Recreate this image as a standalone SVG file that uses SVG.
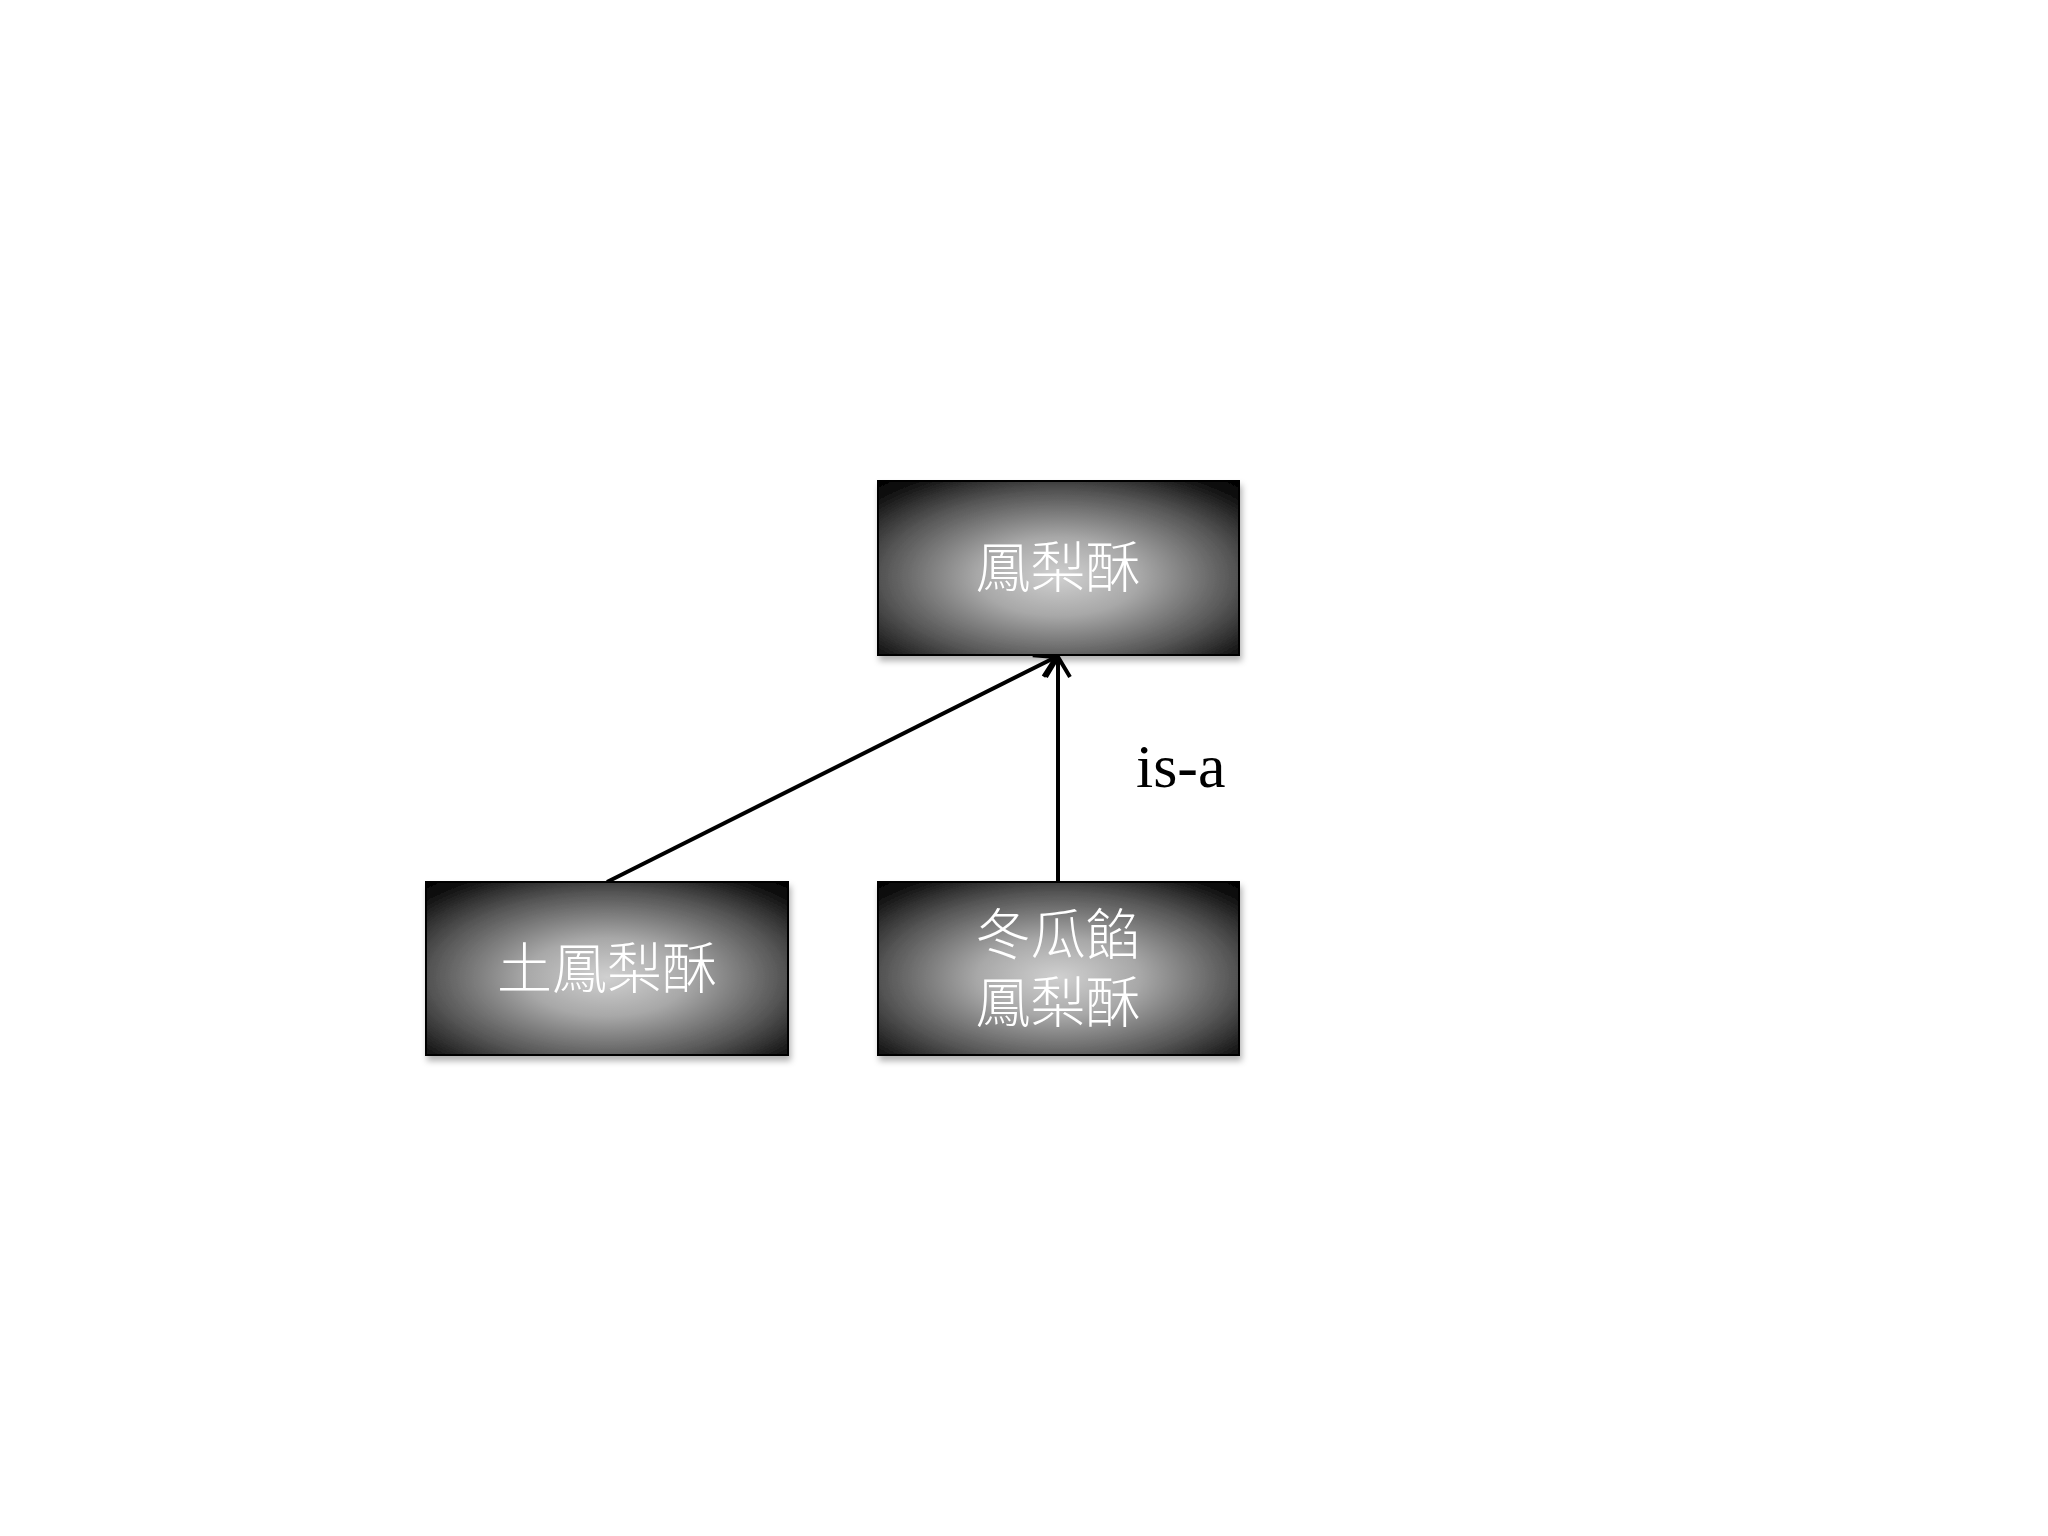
<svg xmlns="http://www.w3.org/2000/svg" width="2048" height="1536" viewBox="0 0 2048 1536">
<style>
.box{fill:url(#rg);stroke:#000;stroke-width:2;filter:url(#sh)}
.cjk{font-family:"Noto Sans CJK TC","Noto Sans CJK SC",sans-serif;font-size:55px;fill:#fff;text-anchor:middle;font-weight:300}
.lbl{font-family:"Liberation Serif",serif;font-size:62px;fill:#000}
.conn{stroke:#000;stroke-width:4;fill:none;marker-end:url(#arr)}
</style>
<defs>
<radialGradient id="rg" cx="0.5" cy="0.55" r="0.75">
<stop offset="0" stop-color="#d0d0d0"/>
<stop offset="0.3" stop-color="#a8a8a8"/>
<stop offset="0.65" stop-color="#555"/>
<stop offset="0.9" stop-color="#0e0e0e"/>
<stop offset="1" stop-color="#000"/>
</radialGradient>
<filter id="sh" x="-5%" y="-5%" width="112%" height="115%">
<feDropShadow dx="2" dy="5" stdDeviation="3" flood-color="#000" flood-opacity="0.3"/>
</filter>
<marker id="arr" markerUnits="userSpaceOnUse" markerWidth="30" markerHeight="30" viewBox="0 0 30 30" refX="24" refY="15" orient="auto">
<path d="M4,3 L24,15 L4,27" fill="none" stroke="#000" stroke-width="4"/>
</marker>
</defs>
<rect width="2048" height="1536" fill="#fff"/>
<g id="connectors">
<line class="conn" x1="607" y1="882" x2="1056" y2="657"/>
<line class="conn" x1="1058" y1="882" x2="1058" y2="657"/>
<text class="lbl" x="1136" y="787">is-a</text>
</g>
<g id="node-top">
<rect class="box" x="878" y="481" width="361" height="174"/>
<text class="cjk" x="1058" y="587">鳳梨酥</text>
</g>
<g id="node-left">
<rect class="box" x="426" y="882" width="362" height="173"/>
<text class="cjk" x="607" y="988">土鳳梨酥</text>
</g>
<g id="node-right">
<rect class="box" x="878" y="882" width="361" height="173"/>
<text class="cjk" x="1058" y="954">冬瓜餡</text>
<text class="cjk" x="1058" y="1022">鳳梨酥</text>
</g>
</svg>
